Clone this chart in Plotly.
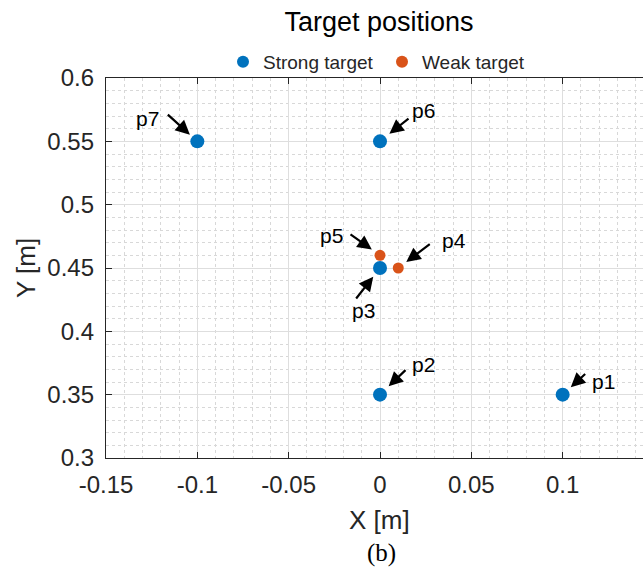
import plotly.graph_objects as go

# ---- data ----
strong_x = [0.1, 0.0, 0.0, 0.0, -0.1]
strong_y = [0.35, 0.35, 0.45, 0.55, 0.55]
strong_labels = ["p1", "p2", "p3", "p6", "p7"]

weak_x = [0.01, 0.0]
weak_y = [0.45, 0.46]
weak_labels = ["p4", "p5"]

x_ticks = [-0.15, -0.1, -0.05, 0, 0.05, 0.1, 0.15]
x_ticktext = ["-0.15", "-0.1", "-0.05", "0", "0.05", "0.1", "0.15"]
y_ticks = [0.3, 0.35, 0.4, 0.45, 0.5, 0.55, 0.6]
y_ticktext = ["0.3", "0.35", "0.4", "0.45", "0.5", "0.55", "0.6"]

# ---- label/arrow styling (pixel offsets) ----
# label: (xanchor, xshift, yshift) ; arrow: (ax, ay, standoff)
label_style = {
    "p1": ("left", 27, 13),
    "p2": ("left", 30, 30),
    "p3": ("center", -17, -42),
    "p4": ("left", 42, 28),
    "p5": ("right", -35, 20),
    "p6": ("left", 30, 31),
    "p7": ("right", -36, 23),
}
arrow_style = {
    "p1": (24, -22, 11),
    "p2": (27, -26, 12),
    "p3": (-25, 32, 11),
    "p4": (33, -25, 10),
    "p5": (-31, -22, 10),
    "p6": (30, -24, 12),
    "p7": (-31, -28, 10),
}

FONT = "Liberation Sans, Arial, sans-serif"
AX_COL = "#262626"
W, H = 643, 573
ML, MR, MT, MB = 106, 0, 78, 115
PW, PH = W - ML - MR, H - MT - MB

def px_to_paper_x(p):
    return (p - ML) / PW

def px_to_paper_y(p):
    return (H - MB - p) / PH

fig = go.Figure()
fig.add_trace(go.Scatter(
    x=strong_x, y=strong_y, mode="markers", name="Strong target",
    marker=dict(color="#0072BD", size=14, line=dict(width=0)),
))
fig.add_trace(go.Scatter(
    x=weak_x, y=weak_y, mode="markers", name="Weak target",
    marker=dict(color="#D95319", size=11, line=dict(width=0)),
))

annotations = []
all_pts = list(zip(strong_x, strong_y, strong_labels)) + list(zip(weak_x, weak_y, weak_labels))
for xv, yv, lab in all_pts:
    ax, ay, so = arrow_style[lab]
    annotations.append(dict(
        x=xv, y=yv, xref="x", yref="y", text="", showarrow=True,
        ax=ax, ay=ay, standoff=so, arrowhead=2, arrowsize=1.3,
        arrowwidth=2.2, arrowcolor="black",
    ))
    xa, xs, ys = label_style[lab]
    annotations.append(dict(
        x=xv, y=yv, xref="x", yref="y", text=lab, showarrow=False,
        xanchor=xa, yanchor="middle", xshift=xs, yshift=ys,
        font=dict(family=FONT, size=21, color="black"),
    ))

# axis titles and caption
annotations.append(dict(
    x=px_to_paper_x(379), y=px_to_paper_y(520), xref="paper", yref="paper",
    text="X [m]", showarrow=False, xanchor="center", yanchor="middle",
    font=dict(family=FONT, size=26, color=AX_COL),
))
annotations.append(dict(
    x=px_to_paper_x(26), y=px_to_paper_y(268), xref="paper", yref="paper",
    text="Y [m]", showarrow=False, xanchor="center", yanchor="middle",
    textangle=-90, font=dict(family=FONT, size=26, color=AX_COL),
))
annotations.append(dict(
    x=px_to_paper_x(381), y=px_to_paper_y(553), xref="paper", yref="paper",
    text="(b)", showarrow=False, xanchor="center", yanchor="middle",
    font=dict(family="Liberation Serif, Times New Roman, serif", size=25, color="black"),
))

x_left = -0.15
x_right = x_left + (0.15 - (-0.15)) * PW / 548.0

fig.update_layout(
    width=W, height=H,
    margin=dict(l=ML, r=MR, t=MT, b=MB, pad=0),
    paper_bgcolor="white", plot_bgcolor="white",
    title=dict(text="Target positions", x=379 / W, xref="container", xanchor="center",
               y=1 - 22 / H, yref="container", yanchor="middle",
               font=dict(family=FONT, size=27, color="black")),
    showlegend=True,
    legend=dict(orientation="h", x=px_to_paper_x(382), xanchor="center",
                y=px_to_paper_y(62), yanchor="middle",
                font=dict(family=FONT, size=19, color=AX_COL),
                itemsizing="constant", bgcolor="rgba(0,0,0,0)",
                tracegroupgap=0, entrywidth=114, entrywidthmode="pixels",
                itemwidth=30),
    annotations=annotations,
)

fig.update_xaxes(
    range=[x_left, x_right], tickvals=x_ticks, ticktext=x_ticktext,
    showline=True, linecolor=AX_COL, linewidth=1.3, mirror="ticks",
    ticks="inside", ticklen=6, tickwidth=1, tickcolor=AX_COL,
    showgrid=True, gridcolor="#dedede", gridwidth=1, zeroline=False,
    tickfont=dict(family=FONT, size=24, color=AX_COL), ticklabelstandoff=5,
    minor=dict(dtick=0.01, showgrid=True, gridcolor="#d8d8d8", griddash="dot", gridwidth=1),
)
fig.update_yaxes(
    range=[0.3, 0.6], tickvals=y_ticks, ticktext=y_ticktext,
    showline=True, linecolor=AX_COL, linewidth=1.3, mirror=False,
    ticks="inside", ticklen=6, tickwidth=1, tickcolor=AX_COL,
    showgrid=True, gridcolor="#dedede", gridwidth=1, zeroline=False,
    tickfont=dict(family=FONT, size=24, color=AX_COL), ticklabelstandoff=6,
    minor=dict(dtick=0.01, showgrid=True, gridcolor="#d8d8d8", griddash="dot", gridwidth=1),
)

fig.write_html("out.html")
